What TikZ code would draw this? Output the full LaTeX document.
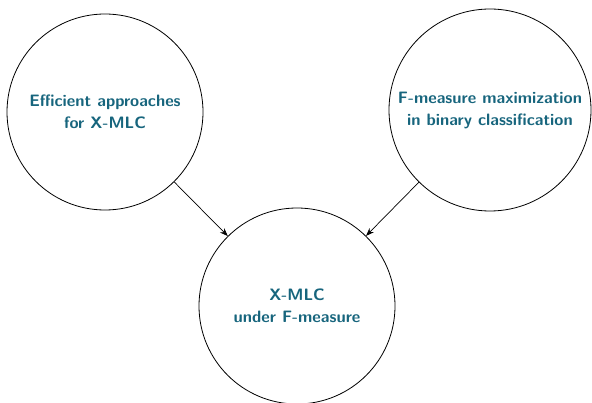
\documentclass[tikz,border=0pt]{standalone}
\usetikzlibrary{arrows.meta}
\definecolor{tealtext}{RGB}{23,101,125}
\begin{document}
\begin{tikzpicture}[x=1pt,y=1pt,
  topic/.style={circle,draw,line width=0.8pt,inner sep=0pt,text=tealtext,
    font=\sffamily\bfseries\fontsize{16.5}{22}\selectfont,align=center},
  link/.style={-{Stealth[length=8pt,width=6pt]},line width=0.7pt}]
\useasboundingbox (0,0) rectangle (592,402);
\node[topic,minimum size=196pt] (eff) at (105,290) {Efficient approaches\\for X-MLC};
\node[topic,minimum size=202pt] (fm) at (490,292) {F-measure maximization\\in binary classification};
\node[topic,minimum size=196pt] (xmlc) at (297,96) {X-MLC\\under F-measure};
\draw[link] (eff) -- (xmlc);
\draw[link] (fm) -- (xmlc);
\end{tikzpicture}
\end{document}
